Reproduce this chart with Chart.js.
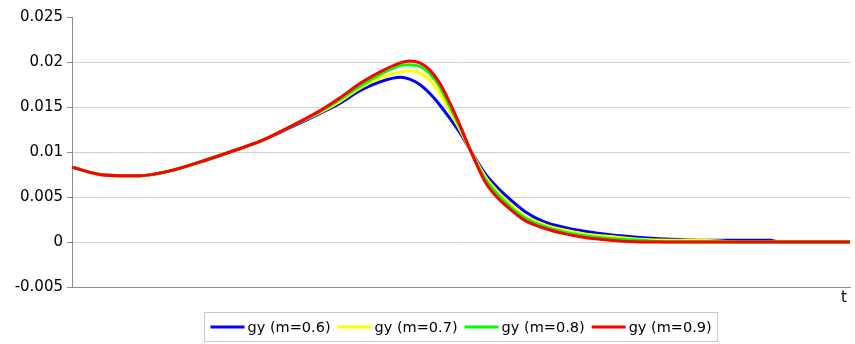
<!DOCTYPE html>
<html>
<head>
<meta charset="utf-8">
<script src="https://cdn.jsdelivr.net/npm/chart.js@4"></script>
<style>
  html, body { margin: 0; padding: 0; background: #fff; }
  #wrap { width: 855px; height: 344px; }
</style>
</head>
<body>
<div id="wrap"><canvas id="chart" width="855" height="344"></canvas></div>
<script>
// values
const tValues = [0, 3.6, 6.2, 8.7, 12.6, 16.5, 20.3, 24.2, 28.0, 31.9, 34.4, 37.0, 39.6, 42.2, 43.4, 44.7, 46.0, 47.3, 48.6, 49.9, 51.2, 53.1, 54.4, 55.7, 58.2, 60.8, 63.4, 65.9, 69.2, 73.0, 76.9, 80.7, 85.9, 89.7, 91.0, 100];
const gy06 = [0.0083, 0.0075, 0.00737, 0.00737, 0.0079, 0.0089, 0.0100, 0.0112, 0.0127, 0.0143, 0.0154, 0.0168, 0.0178, 0.0183, 0.0181, 0.0175, 0.0165, 0.0152, 0.0137, 0.0121, 0.0102, 0.0076, 0.0063, 0.0052, 0.0034, 0.0022, 0.0016, 0.0012, 0.0008, 0.0005, 0.0003, 0.0002, 0.0002, 0.0002, 0, 0];
const gy07 = [0.0083, 0.0075, 0.00737, 0.00737, 0.0079, 0.0089, 0.0100, 0.0112, 0.0128, 0.0144, 0.0156, 0.0171, 0.0182, 0.0189, 0.0190, 0.0188, 0.0180, 0.0165, 0.0145, 0.0124, 0.0102, 0.0073, 0.0059, 0.0047, 0.0029, 0.0019, 0.0013, 0.0009, 0.0006, 0.0003, 0.0002, 0.0002, 0, 0, 0, 0];
const gy08 = [0.0083, 0.0075, 0.00737, 0.00737, 0.0079, 0.0089, 0.0100, 0.0112, 0.0128, 0.0145, 0.0158, 0.0173, 0.0186, 0.0196, 0.0197, 0.0195, 0.0187, 0.0172, 0.0150, 0.0127, 0.0102, 0.0070, 0.0056, 0.0044, 0.0027, 0.0017, 0.0011, 0.0007, 0.0004, 0.0002, 0, 0, 0, 0, 0, 0];
const gy09 = [0.0083, 0.0075, 0.00737, 0.00737, 0.0079, 0.0089, 0.0100, 0.0112, 0.0128, 0.0146, 0.0160, 0.0176, 0.0189, 0.0199, 0.0201, 0.0199, 0.0191, 0.0176, 0.0154, 0.0129, 0.0102, 0.0067, 0.0052, 0.0041, 0.0024, 0.0015, 0.0009, 0.0005, 0.0002, 0, 0, 0, 0, 0, 0, 0];

const seriesLabels = ['gy (m=0.6)', 'gy (m=0.7)', 'gy (m=0.8)', 'gy (m=0.9)'];
const seriesColors = ['#0000ff', '#ffff00', '#00ff00', '#ff0000'];
const allSeries = [gy06, gy07, gy08, gy09];

const yMin = -0.005, yMax = 0.025, yStep = 0.005;

const toPoints = (ys) => ys.map((y, i) => ({ x: tValues[i], y: y }));

// legend with a frame + the "t" label at the axis end
const extras = {
    id: 'extras',
    afterDraw(chart) {
        const c = chart.ctx;
        const area = chart.chartArea;
        c.save();

        c.font = '15px "DejaVu Sans"';
        c.fillStyle = '#000';
        c.textAlign = 'right';
        c.textBaseline = 'middle';
        c.fillText('t', area.right - 3, area.bottom + 11);

        c.font = '14.5px "DejaVu Sans"';
        const lineW = 34, gapText = 3, gapItem = 7, padX = 6;
        const widths = seriesLabels.map(s => c.measureText(s).width);
        let total = padX * 2 + gapItem * (seriesLabels.length - 1);
        widths.forEach(w => { total += lineW + gapText + w; });
        const boxX = Math.round((area.left + area.right) / 2 - total / 2) + 0.5;
        const boxY = chart.height - 31.5;
        const boxH = 29;
        c.strokeStyle = '#c8c8c8';
        c.lineWidth = 1;
        c.strokeRect(boxX, boxY, total, boxH);

        const cy = boxY + boxH / 2;
        let x = boxX + padX;
        c.textAlign = 'left';
        seriesLabels.forEach((s, i) => {
            c.strokeStyle = seriesColors[i];
            c.lineWidth = 3;
            c.beginPath();
            c.moveTo(x, cy);
            c.lineTo(x + lineW, cy);
            c.stroke();
            x += lineW + gapText;
            c.fillStyle = '#000';
            c.fillText(s, x, cy + 1);
            x += widths[i] + gapItem;
        });
        c.restore();
    }
};

new Chart(document.getElementById('chart'), {
    type: 'line',
    data: {
        datasets: allSeries.map((ys, i) => ({
            label: seriesLabels[i],
            data: toPoints(ys),
            borderColor: seriesColors[i],
            backgroundColor: seriesColors[i],
            borderWidth: 3,
            pointRadius: 0,
            cubicInterpolationMode: 'monotone',
            order: allSeries.length - i
        }))
    },
    options: {
        responsive: false,
        animation: false,
        layout: { padding: { top: 17, right: 5, left: 0, bottom: 0 } },
        plugins: {
            legend: { display: false },
            tooltip: { enabled: false }
        },
        scales: {
            x: {
                type: 'linear',
                min: 0,
                max: 100,
                ticks: { display: false },
                grid: { display: false, drawTicks: false },
                border: { display: true, color: '#8c8c8c', width: 1 },
                afterFit: (scale) => { scale.height = 57; }
            },
            y: {
                min: yMin,
                max: yMax,
                ticks: {
                    stepSize: yStep,
                    color: '#000',
                    padding: 4,
                    font: { family: '"DejaVu Sans"', size: 15 },
                    callback: (v) => String(+v.toFixed(3))
                },
                grid: {
                    color: (ctx) => (ctx.tick && Math.abs(ctx.tick.value - yMax) < 1e-9) ? 'rgba(0,0,0,0)' : '#d0d0d0',
                    tickColor: '#8c8c8c',
                    tickLength: 5
                },
                border: { display: true, color: '#8c8c8c', width: 1 },
                afterFit: (scale) => { scale.width = 72; }
            }
        }
    },
    plugins: [extras]
});
</script>
</body>
</html>
